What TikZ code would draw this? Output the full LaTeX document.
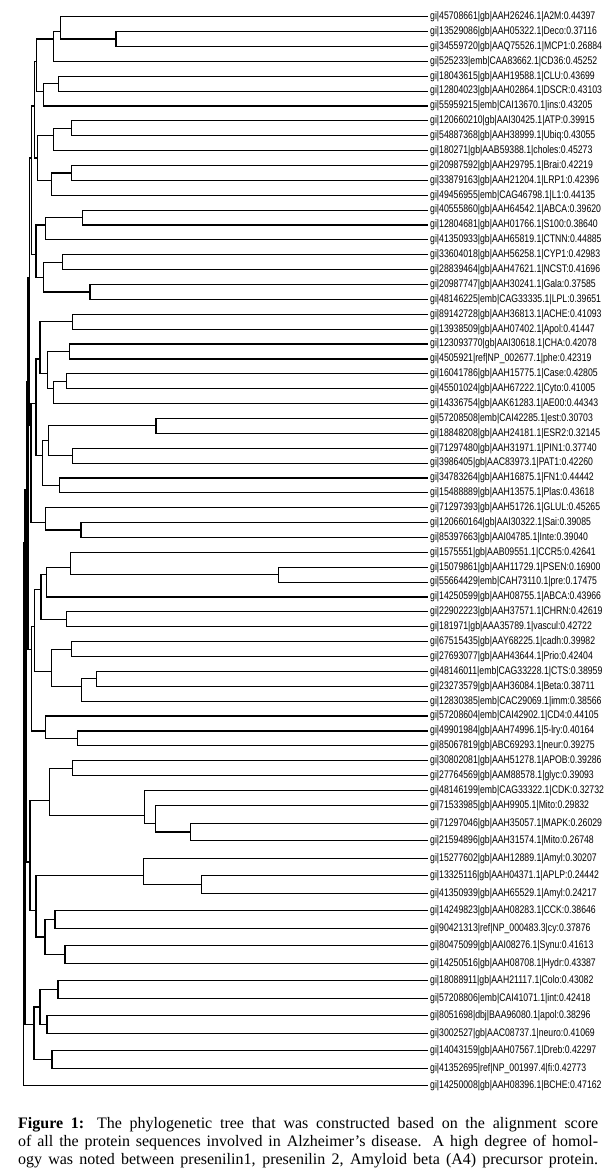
\documentclass[tikz,border=0pt]{standalone}
\usepackage{fontspec}
\setmainfont{Liberation Serif}
\newfontfamily\labfont[FakeStretch=0.79]{Liberation Sans}
\usetikzlibrary{calc}
\newcommand\lf[3]{\coordinate (l#1) at (428,#2); \node[lab] (t#1) at (430,#2) {#3};}
\newcommand\cl[6]{\path let \p1=($(#3)!0.5!(#4)$) in coordinate (#1) at (#2pt,\y1);
  \draw[br] (#1) |- (#5) (#1) |- (#6);}
\newcommand\capline[1]{\makebox[580pt][s]{#1}}
\begin{document}
\begin{tikzpicture}[x=1pt,y=-1pt,
  br/.style={line width=1.15pt},
  lab/.style={anchor=west,inner sep=0pt,font=\labfont\fontsize{11}{11}\selectfont}]
\useasboundingbox (0,0) rectangle (609,1172);
\fill[white] (0,0) rectangle (609,1172);
% leaves
\lf{1}{16.70}{gi|45708661|gb|AAH26246.1|A2M:0.44397}
\lf{2}{31.58}{gi|13529086|gb|AAH05322.1|Deco:0.37116}
\lf{3}{46.46}{gi|34559720|gb|AAQ75526.1|MCP1:0.26884}
\lf{4}{61.34}{gi|525233|emb|CAA83662.1|CD36:0.45252}
\lf{5}{76.22}{gi|18043615|gb|AAH19588.1|CLU:0.43699}
\lf{6}{91.10}{gi|12804023|gb|AAH02864.1|DSCR:0.43103}
\lf{7}{105.98}{gi|55959215|emb|CAI13670.1|ins:0.43205}
\lf{8}{120.86}{gi|120660210|gb|AAI30425.1|ATP:0.39915}
\lf{9}{135.74}{gi|54887368|gb|AAH38999.1|Ubiq:0.43055}
\lf{10}{150.62}{gi|180271|gb|AAB59388.1|choles:0.45273}
\lf{11}{165.50}{gi|20987592|gb|AAH29795.1|Brai:0.42219}
\lf{12}{180.38}{gi|33879163|gb|AAH21204.1|LRP1:0.42396}
\lf{13}{195.26}{gi|49456955|emb|CAG46798.1|L1:0.44135}
\lf{14}{210.14}{gi|40555860|gb|AAH64542.1|ABCA:0.39620}
\lf{15}{225.02}{gi|12804681|gb|AAH01766.1|S100:0.38640}
\lf{16}{239.90}{gi|41350933|gb|AAH65819.1|CTNN:0.44885}
\lf{17}{254.78}{gi|33604018|gb|AAH56258.1|CYP1:0.42983}
\lf{18}{269.66}{gi|28839464|gb|AAH47621.1|NCST:0.41696}
\lf{19}{284.54}{gi|20987747|gb|AAH30241.1|Gala:0.37585}
\lf{20}{299.42}{gi|48146225|emb|CAG33335.1|LPL:0.39651}
\lf{21}{314.30}{gi|89142728|gb|AAH36813.1|ACHE:0.41093}
\lf{22}{329.18}{gi|13938509|gb|AAH07402.1|Apol:0.41447}
\lf{23}{344.06}{gi|123093770|gb|AAI30618.1|CHA:0.42078}
\lf{24}{358.94}{gi|4505921|ref|NP\_002677.1|phe:0.42319}
\lf{25}{373.82}{gi|16041786|gb|AAH15775.1|Case:0.42805}
\lf{26}{388.70}{gi|45501024|gb|AAH67222.1|Cyto:0.41005}
\lf{27}{403.58}{gi|14336754|gb|AAK61283.1|AE00:0.44343}
\lf{28}{418.46}{gi|57208508|emb|CAI42285.1|est:0.30703}
\lf{29}{433.34}{gi|18848208|gb|AAH24181.1|ESR2:0.32145}
\lf{30}{448.22}{gi|71297480|gb|AAH31971.1|PIN1:0.37740}
\lf{31}{463.10}{gi|3986405|gb|AAC83973.1|PAT1:0.42260}
\lf{32}{477.98}{gi|34783264|gb|AAH16875.1|FN1:0.44442}
\lf{33}{492.86}{gi|15488889|gb|AAH13575.1|Plas:0.43618}
\lf{34}{507.74}{gi|71297393|gb|AAH51726.1|GLUL:0.45265}
\lf{35}{522.62}{gi|120660164|gb|AAI30322.1|Sai:0.39085}
\lf{36}{537.50}{gi|85397663|gb|AAI04785.1|Inte:0.39040}
\lf{37}{552.38}{gi|1575551|gb|AAB09551.1|CCR5:0.42641}
\lf{38}{567.26}{gi|15079861|gb|AAH11729.1|PSEN:0.16900}
\lf{39}{582.14}{gi|55664429|emb|CAH73110.1|pre:0.17475}
\lf{40}{597.02}{gi|14250599|gb|AAH08755.1|ABCA:0.43966}
\lf{41}{611.90}{gi|22902223|gb|AAH37571.1|CHRN:0.42619}
\lf{42}{626.78}{gi|181971|gb|AAA35789.1|vascul:0.42722}
\lf{43}{641.66}{gi|67515435|gb|AAY68225.1|cadh:0.39982}
\lf{44}{656.54}{gi|27693077|gb|AAH43644.1|Prio:0.42404}
\lf{45}{671.42}{gi|48146011|emb|CAG33228.1|CTS:0.38959}
\lf{46}{686.30}{gi|23273579|gb|AAH36084.1|Beta:0.38711}
\lf{47}{701.18}{gi|12830385|emb|CAC29069.1|imm:0.38566}
\lf{48}{716.06}{gi|57208604|emb|CAI42902.1|CD4:0.44105}
\lf{49}{730.94}{gi|49901984|gb|AAH74996.1|5-lry:0.40164}
\lf{50}{745.82}{gi|85067819|gb|ABC69293.1|neur:0.39275}
\lf{51}{760.70}{gi|30802081|gb|AAH51278.1|APOB:0.39286}
\lf{52}{775.58}{gi|27764569|gb|AAM88578.1|glyc:0.39093}
\lf{53}{790.46}{gi|48146199|emb|CAG33322.1|CDK:0.32732}
\lf{54}{805.7}{gi|71533985|gb|AAH9905.1|Mito:0.29832}
\lf{55}{823.2}{gi|71297046|gb|AAH35057.1|MAPK:0.26029}
\lf{56}{840.7}{gi|21594896|gb|AAH31574.1|Mito:0.26748}
\lf{57}{858.2}{gi|15277602|gb|AAH12889.1|Amyl:0.30207}
\lf{58}{875.7}{gi|13325116|gb|AAH04371.1|APLP:0.24442}
\lf{59}{893.2}{gi|41350939|gb|AAH65529.1|Amyl:0.24217}
\lf{60}{910.7}{gi|14249823|gb|AAH08283.1|CCK:0.38646}
\lf{61}{928.2}{gi|90421313|ref|NP\_000483.3|cy:0.37876}
\lf{62}{945.7}{gi|80475099|gb|AAI08276.1|Synu:0.41613}
\lf{63}{963.2}{gi|14250516|gb|AAH08708.1|Hydr:0.43387}
\lf{64}{980.7}{gi|18088911|gb|AAH21117.1|Colo:0.43082}
\lf{65}{998.2}{gi|57208806|emb|CAI41071.1|int:0.42418}
\lf{66}{1015.7}{gi|8051698|dbj|BAA96080.1|apol:0.38296}
\lf{67}{1033.2}{gi|3002527|gb|AAC08737.1|neuro:0.41069}
\lf{68}{1050.7}{gi|14043159|gb|AAH07567.1|Dreb:0.42297}
\lf{69}{1068.2}{gi|41352695|ref|NP\_001997.4|fi:0.42773}
\lf{70}{1085.7}{gi|14250008|gb|AAH08396.1|BCHE:0.47162}
% clades: name, x, first leaf, last leaf, child A, child B
\cl{nDM}{116}{l2}{l3}{l2}{l3}
\cl{nA2M}{60.7}{l1}{l3}{l1}{nDM}
\cl{nCD}{53.3}{l1}{l4}{nA2M}{l4}
\cl{nCLU}{58.7}{l5}{l6}{l5}{l6}
\cl{nIns}{43.7}{l5}{l7}{nCLU}{l7}
\cl{nA}{36.7}{l1}{l7}{nCD}{nIns}
\cl{nATP}{71.7}{l8}{l9}{l8}{l9}
\cl{nCho}{53.3}{l8}{l10}{nATP}{l10}
\cl{nBrai}{71.7}{l11}{l12}{l11}{l12}
\cl{nL1}{51.7}{l11}{l13}{nBrai}{l13}
\cl{nB}{37.7}{l8}{l13}{nCho}{nL1}
\cl{nAB}{34.3}{l1}{l13}{nA}{nB}
\cl{nAbc}{82.7}{l14}{l15}{l14}{l15}
\cl{nCtn}{45.7}{l14}{l16}{nAbc}{l16}
\cl{nCyp}{62.7}{l17}{l18}{l17}{l18}
\cl{nGala}{90}{l19}{l20}{l19}{l20}
\cl{nCG}{43.3}{l17}{l20}{nCyp}{nGala}
\cl{nC}{36}{l14}{l20}{nCtn}{nCG}
\cl{nABC}{31.7}{l1}{l20}{nAB}{nC}
\cl{nAche}{72.7}{l21}{l22}{l21}{l22}
\cl{nCha}{69.3}{l23}{l24}{l23}{l24}
\cl{nCase}{66.7}{l25}{l26}{l25}{l26}
\cl{nAE}{53.3}{l25}{l27}{nCase}{l27}
\cl{nCA}{47.3}{l23}{l27}{nCha}{nAE}
\cl{nD1}{40}{l21}{l27}{nAche}{nCA}
\cl{nEst}{156}{l28}{l29}{l28}{l29}
\cl{nPin}{72.7}{l30}{l31}{l30}{l31}
\cl{nEP}{48.3}{l28}{l31}{nEst}{nPin}
\cl{nFN}{59.3}{l32}{l33}{l32}{l33}
\cl{nEF}{42.3}{l28}{l33}{nEP}{nFN}
\cl{nD}{36}{l21}{l33}{nD1}{nEF}
\cl{nSai}{81}{l35}{l36}{l35}{l36}
\cl{nGlul}{45.7}{l34}{l36}{l34}{nSai}
\cl{nDG}{31}{l21}{l36}{nD}{nGlul}
\cl{nTop}{29.3}{l1}{l36}{nABC}{nDG}
\cl{nPsen}{278.3}{l38}{l39}{l38}{l39}
\cl{nCcr}{70.3}{l37}{l39}{l37}{nPsen}
\cl{nAbc2}{46.7}{l37}{l40}{nCcr}{l40}
\cl{nChrn}{66.7}{l41}{l42}{l41}{l42}
\cl{nE1}{41}{l37}{l42}{nAbc2}{nChrn}
\cl{nCadh}{71.7}{l43}{l44}{l43}{l44}
\cl{nCts}{96.7}{l45}{l46}{l45}{l46}
\cl{nImm}{81.7}{l45}{l47}{nCts}{l47}
\cl{nE2}{51.7}{l43}{l47}{nCadh}{nImm}
\cl{nE}{34.3}{l37}{l47}{nE1}{nE2}
\cl{nLry}{77.3}{l49}{l50}{l49}{l50}
\cl{nCd4}{45.7}{l48}{l50}{l48}{nLry}
\cl{nEC}{31.7}{l37}{l50}{nE}{nCd4}
\cl{nApob}{72.7}{l51}{l52}{l51}{l52}
\cl{nMapk}{190.7}{l55}{l56}{l55}{l56}
\cl{nMito}{155.7}{l54}{l56}{l54}{nMapk}
\cl{nCdk}{144.3}{l53}{l56}{l53}{nMito}
\cl{nF}{49.3}{l51}{l56}{nApob}{nCdk}
\cl{nAplp}{201.7}{l58}{l59}{l58}{l59}
\cl{nAmyl}{143.3}{l57}{l59}{l57}{nAplp}
\cl{nCck}{55}{l60}{l61}{l60}{l61}
\cl{nSynu}{65}{l62}{l63}{l62}{l63}
\cl{nCS}{45}{l60}{l63}{nCck}{nSynu}
\cl{nH}{36}{l57}{l63}{nAmyl}{nCS}
\cl{nG}{30}{l51}{l63}{nF}{nH}
\cl{nColo}{58}{l64}{l65}{l64}{l65}
\cl{nApol}{47}{l66}{l67}{l66}{l67}
\cl{nDreb}{52}{l68}{l69}{l68}{l69}
\cl{nCA2}{40}{l64}{l67}{nColo}{nApol}
\cl{nK}{34}{l64}{l69}{nCA2}{nDreb}
\cl{nR1}{28}{l1}{l50}{nTop}{nEC}
\cl{nR2}{26.5}{l1}{l63}{nR1}{nG}
\cl{nR3}{25}{l1}{l69}{nR2}{nK}
\cl{nRoot}{23.5}{l1}{l70}{nR3}{l70}
% caption
\node[anchor=north west,inner sep=0pt,align=left,
  font=\fontsize{16}{18.3}\selectfont] (cap) at (18,1117)
  {\capline{\textbf{Figure 1:} The phylogenetic tree that was constructed based on the alignment score}\\
   \capline{of all the protein sequences involved in Alzheimer’s disease. A high degree of homol-}\\
   \capline{ogy was noted between presenilin1, presenilin 2, Amyloid beta (A4) precursor protein.}};
\end{tikzpicture}
\end{document}
